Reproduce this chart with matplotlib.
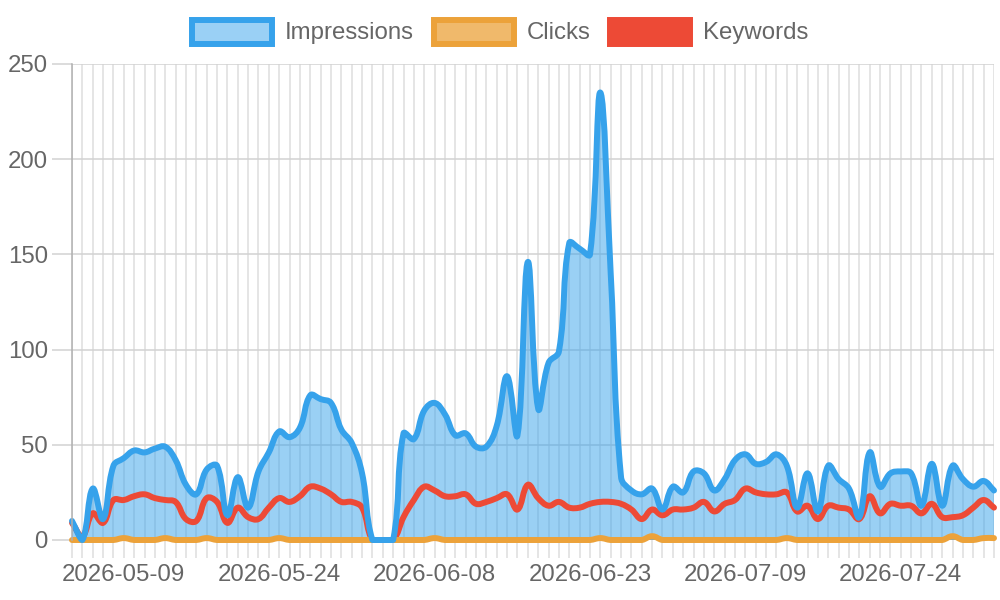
import matplotlib
matplotlib.use("Agg")
import matplotlib.pyplot as plt
import numpy as np
import pandas as pd
from matplotlib.path import Path
from matplotlib.patches import PathPatch, Rectangle

plt.rcParams['font.family'] = ['Liberation Sans', 'DejaVu Sans']

# daily categories (one day missing in the source data)
dates = pd.date_range("2026-05-04", "2026-08-02").strftime("%Y-%m-%d").tolist()
dates.remove("2026-06-30")

impressions = [10, 0, 27, 11, 39, 43, 47, 46, 48, 49,
               42, 29, 24, 37, 39, 13, 33, 17, 36, 46,
               57, 54, 59, 76, 74, 72, 58, 51, 35, 0,
               0, 0, 56, 53, 68, 72, 66, 55, 56, 49,
               49, 60, 86, 55, 146, 69, 93, 99, 156, 153,
               150, 235, 140, 33, 26, 24, 27, 16, 28, 25,
               36, 35, 26, 32, 42, 45, 40, 41, 45, 39,
               17, 35, 15, 39, 32, 27, 12, 46, 28, 35,
               36, 35, 18, 40, 18, 39, 32, 28, 31, 26]
clicks = [0, 0, 0, 0, 0, 1, 0, 0, 0, 1,
          0, 0, 0, 1, 0, 0, 0, 0, 0, 0,
          1, 0, 0, 0, 0, 0, 0, 0, 0, 0,
          0, 0, 0, 0, 0, 1, 0, 0, 0, 0,
          0, 0, 0, 0, 0, 0, 0, 0, 0, 0,
          0, 1, 0, 0, 0, 0, 2, 0, 0, 0,
          0, 0, 0, 0, 0, 0, 0, 0, 0, 1,
          0, 0, 0, 0, 0, 0, 0, 0, 0, 0,
          0, 0, 0, 0, 0, 2, 0, 0, 1, 1]
keywords = [9, 2, 14, 9, 21, 21, 23, 24, 22, 21,
            20, 11, 10, 22, 20, 9, 17, 12, 11, 17,
            22, 20, 23, 28, 27, 24, 20, 20, 17, 0,
            0, 0, 12, 21, 28, 26, 23, 23, 24, 19,
            20, 22, 24, 16, 29, 22, 18, 20, 17, 17,
            19, 20, 20, 19, 16, 11, 16, 13, 16, 16,
            17, 20, 15, 19, 21, 27, 25, 24, 24, 25,
            15, 18, 11, 18, 17, 16, 11, 23, 14, 19,
            18, 18, 14, 19, 12, 12, 13, 17, 21, 17]

label_idx = list(range(5, len(dates), 15))

BLUE = '#36a2eb'
ORANGE = '#eca23a'
RED = '#ed4a36'
VGRID = '#e0e0e0'
HGRID = '#d2d2d2'
TEXT = '#666666'

YMAX = 250
PX_X = 10.35   # pixels per category step
PX_Y = 1.904   # pixels per unit


def spline_verts(vals, tension=0.4):
    """bezier control points like chart.js (tension 0.4, capped to area)"""
    n = len(vals)
    xs = np.arange(n) * PX_X
    ys = np.asarray(vals, float) * PX_Y
    cp_prev, cp_next = [], []
    for i in range(n):
        a = max(i - 1, 0)
        b = min(i + 1, n - 1)
        d01 = np.hypot(xs[i] - xs[a], ys[i] - ys[a])
        d12 = np.hypot(xs[b] - xs[i], ys[b] - ys[i])
        tot = d01 + d12
        s01 = d01 / tot if tot else 0
        s12 = d12 / tot if tot else 0
        dx, dy = xs[b] - xs[a], ys[b] - ys[a]
        pp = [xs[i] - tension * s01 * dx, ys[i] - tension * s01 * dy]
        nn = [xs[i] + tension * s12 * dx, ys[i] + tension * s12 * dy]
        for c in (pp, nn):
            c[0] = min(max(c[0], 0), xs[-1])
            c[1] = min(max(c[1], 0), YMAX * PX_Y)
        cp_prev.append(pp)
        cp_next.append(nn)
    verts = [(xs[0], ys[0])]
    codes = [Path.MOVETO]
    for i in range(1, n):
        verts += [tuple(cp_next[i - 1]), tuple(cp_prev[i]), (xs[i], ys[i])]
        codes += [Path.CURVE4] * 3
    verts = [(x / PX_X, y / PX_Y) for x, y in verts]
    return verts, codes


fig = plt.figure(figsize=(10, 6), dpi=100)
ax = fig.add_axes([0.072, 0.1, 0.922, 1 - 0.1 - 64 / 600])

series = [
    (keywords, RED, None, 2),
    (clicks, ORANGE, 0.75, 3),
    (impressions, BLUE, 0.5, 4),
]
for vals, col, alpha, z in series:
    verts, codes = spline_verts(vals)
    if alpha is not None:
        fverts = verts + [(len(vals) - 1, 0), (0, 0), (0, 0)]
        fcodes = codes + [Path.LINETO, Path.LINETO, Path.CLOSEPOLY]
        ax.add_patch(PathPatch(Path(fverts, fcodes), facecolor=col, alpha=alpha,
                               edgecolor='none', zorder=1))
    ax.add_patch(PathPatch(Path(verts, codes), facecolor='none', edgecolor=col,
                           lw=4.3, capstyle='round', joinstyle='round',
                           zorder=z, clip_on=False))

ax.set_xlim(0, len(dates) - 1)
ax.set_ylim(0, YMAX)

ax.set_xticks(range(len(dates)))
ax.set_xticklabels([d if i in label_idx else '' for i, d in enumerate(dates)])
ax.set_yticks(range(0, YMAX + 1, 50))
ax.grid(True, axis='x', color=VGRID, lw=1.2, zorder=0)
ax.grid(True, axis='y', color=HGRID, lw=1.1, zorder=0)
ax.set_axisbelow(True)

ax.tick_params(axis='x', length=13, width=1.2, color=VGRID, pad=4,
               labelsize=17.3, labelcolor=TEXT)
ax.tick_params(axis='y', length=14.4, width=1.1, color=HGRID, pad=3,
               labelsize=17.3, labelcolor=TEXT)

for s in ('top', 'right', 'bottom'):
    ax.spines[s].set_visible(False)
ax.spines['left'].set_color('#b0b0b0')
ax.spines['left'].set_linewidth(1.1)
ax.spines['left'].set_zorder(5)

# legend in pixel coordinates, like chart.js draws it
legend = [("Impressions", BLUE, '#9ad0f5', 192.3, 285),
          ("Clicks", ORANGE, '#f0b96b', 434, 526.7),
          ("Keywords", RED, RED, 610, 702.7)]
for name, edge, face, bx, tx in legend:
    fig.add_artist(Rectangle((bx / 1000, 1 - 43.7 / 600), 80 / 1000, 24 / 600,
                             transform=fig.transFigure, facecolor=face,
                             edgecolor=edge, lw=4.3))
    fig.text(tx / 1000, 1 - 33 / 600, name, fontsize=17.3, color=TEXT,
             ha='left', va='center')

fig.savefig("out.png", dpi=100)
